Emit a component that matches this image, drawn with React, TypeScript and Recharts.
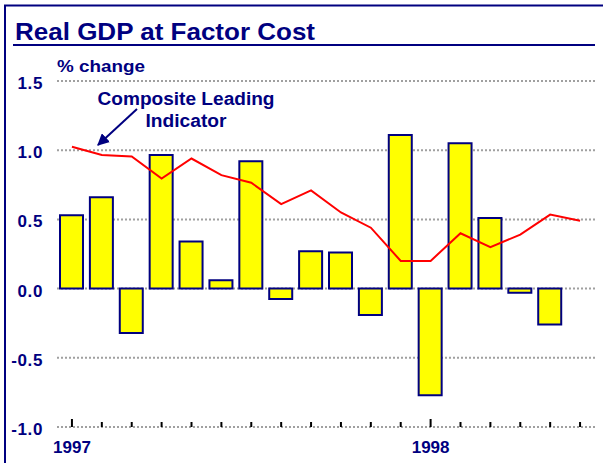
import { Bar, CartesianGrid, ComposedChart, Line, XAxis, YAxis } from "recharts";

const months = [
  "1997-01", "1997-02", "1997-03", "1997-04", "1997-05", "1997-06",
  "1997-07", "1997-08", "1997-09", "1997-10", "1997-11", "1997-12",
  "1998-01", "1998-02", "1998-03", "1998-04", "1998-05", "1998-06",
];

const gdpChange = [
  0.53, 0.66, -0.32, 0.965, 0.34, 0.06, 0.92, -0.075, 0.27,
  0.26, -0.19, 1.11, -0.77, 1.05, 0.51, -0.03, -0.26, null,
];

const leadingIndicator = [
  1.025, 0.965, 0.955, 0.795, 0.94, 0.82, 0.765, 0.61, 0.71,
  0.55, 0.44, 0.2, 0.2, 0.4, 0.3, 0.39, 0.535, 0.49,
];

const yTicks = [-1, -0.5, 0, 0.5, 1, 1.5];

const data = months.map((month, i) => ({
  month,
  gdp: gdpChange[i],
  cli: leadingIndicator[i],
}));

const NAVY = "#000080";
const FONT = "'Liberation Sans', Arial, Helvetica, sans-serif";

const XTick = (props: any) => {
  const { x, y, payload } = props;
  const isYear = String(payload.value).endsWith("-01");
  return (
    <g>
      <line x1={x} x2={x} y1={y} y2={y - (isYear ? 8 : 5)} stroke="#000" strokeWidth={2} />
      {isYear && (
        <text x={x} y={y + 26} textAnchor="middle" fill={NAVY} fontSize={17} fontWeight="bold" fontFamily={FONT}>
          {String(payload.value).slice(0, 4)}
        </text>
      )}
    </g>
  );
};

const YTick = (props: any) => {
  const { x, y, payload } = props;
  return (
    <text x={x} y={y + 8} textAnchor="end" fill={NAVY} fontSize={17} fontWeight="bold" fontFamily={FONT} letterSpacing={0.6}>
      {Number(payload.value).toFixed(1)}
    </text>
  );
};

export default function App() {
  return (
    <div style={{ position: "absolute", left: 0, top: 0, width: 603, height: 463, background: "#fff" }}>
      <ComposedChart
        width={603}
        height={463}
        data={data}
        margin={{ top: 81, right: 8, bottom: 6, left: 0 }}
        barSize={23}
      >
        <CartesianGrid vertical={false} stroke="#a0a0a0" strokeWidth={2} strokeDasharray="2 2" />
        <XAxis
          dataKey="month"
          axisLine={false}
          tickLine={false}
          tickSize={0}
          tickMargin={0}
          interval={0}
          height={30}
          tick={<XTick />}
        />
        <YAxis
          width={57}
          domain={[-1, 1.5]}
          ticks={yTicks}
          axisLine={false}
          tickLine={false}
          tickSize={0}
          tickMargin={14}
          tick={<YTick />}
        />
        <Bar dataKey="gdp" fill="#ffff00" stroke={NAVY} strokeWidth={2} isAnimationActive={false} />
        <Line
          dataKey="cli"
          type="linear"
          stroke="#ff0000"
          strokeWidth={2}
          dot={false}
          activeDot={false}
          isAnimationActive={false}
        />
      </ComposedChart>
      <svg
        width={603}
        height={463}
        style={{ position: "absolute", left: 0, top: 0, pointerEvents: "none" }}
      >
        <defs>
          <marker id="arrow" viewBox="0 0 10 10" refX="9" refY="5" markerWidth="6" markerHeight="6" orient="auto">
            <path d="M0,0 L10,5 L0,10 z" fill={NAVY} />
          </marker>
        </defs>
        <rect x={5} y={5.5} width={700} height={600} fill="none" stroke={NAVY} strokeWidth={2} />
        <text
          x={15}
          y={40}
          fill={NAVY}
          fontSize={24}
          fontWeight="bold"
          fontFamily={FONT}
          textLength={300}
          lengthAdjust="spacingAndGlyphs"
        >
          Real GDP at Factor Cost
        </text>
        <line x1={13} x2={595} y1={45} y2={45} stroke={NAVY} strokeWidth={2} />
        <text
          x={57}
          y={72}
          fill={NAVY}
          fontSize={17}
          fontWeight="bold"
          fontFamily={FONT}
          textLength={88}
          lengthAdjust="spacingAndGlyphs"
        >
          % change
        </text>
        <text
          x={186}
          y={105}
          textAnchor="middle"
          fill={NAVY}
          fontSize={18}
          fontWeight="bold"
          fontFamily={FONT}
          textLength={177}
          lengthAdjust="spacingAndGlyphs"
        >
          Composite Leading
        </text>
        <text
          x={186}
          y={126.5}
          textAnchor="middle"
          fill={NAVY}
          fontSize={18}
          fontWeight="bold"
          fontFamily={FONT}
          textLength={81}
          lengthAdjust="spacingAndGlyphs"
        >
          Indicator
        </text>
        <line x1={137} y1={109} x2={98} y2={145} stroke={NAVY} strokeWidth={2} markerEnd="url(#arrow)" />
      </svg>
    </div>
  );
}
